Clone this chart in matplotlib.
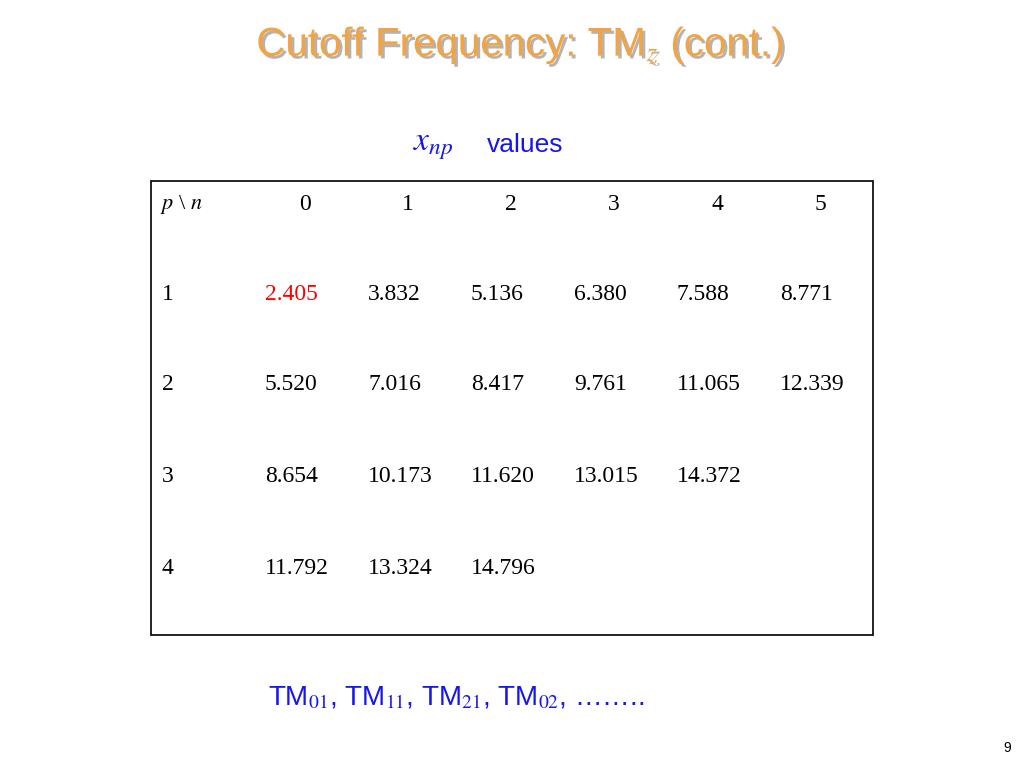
import matplotlib
matplotlib.use("Agg")
import matplotlib.pyplot as plt
import matplotlib.patheffects as pe
from matplotlib.patches import Rectangle

plt.rcParams['mathtext.fontset'] = 'stix'

col_labels = ["0", "1", "2", "3", "4", "5"]
row_labels = ["1", "2", "3", "4"]
row1 = ["2.405", "3.832", "5.136", "6.380", "7.588", "8.771"]
row2 = ["5.520", "7.016", "8.417", "9.761", "11.065", "12.339"]
row3 = ["8.654", "10.173", "11.620", "13.015", "14.372"]
row4 = ["11.792", "13.324", "14.796"]
rows = [row1, row2, row3, row4]

W, H = 1024, 768
fig = plt.figure(figsize=(W/100, H/100), dpi=100)
ax = fig.add_axes([0, 0, 1, 1])
ax.set_xlim(0, W); ax.set_ylim(H, 0); ax.axis('off')

# Title
ax.text(520, 45, r"Cutoff Frequency: TM$_{\it z}$ (cont.)", fontsize=29, color='#F4A340',
        family='Liberation Sans', ha='center', va='center',
        path_effects=[pe.withSimplePatchShadow(offset=(2, -2), shadow_rgbFace='#A0A0A0', alpha=0.8)])

blue = '#1515F0'
ax.text(453, 145, r"$\it{x}_{\it{np}}$", fontsize=24, color=blue, ha='right', va='center')
ax.text(487, 145, "values", fontsize=19, color=blue, family='Liberation Sans', ha='left', va='center')

ax.add_patch(Rectangle((151, 181), 722, 454, fill=False, lw=1.2, ec='black'))

serif = 'Liberation Serif'
ax.text(160, 205, r"$\it{p}$ \ $\it{n}$", fontsize=16, ha='left', va='center', family=serif)
hx = [305, 408, 511, 614, 717, 820]
for x, c in zip(hx, col_labels):
    ax.text(x, 205, c, fontsize=17, ha='center', va='center', family=serif)

vx = [265, 368, 471, 574, 677, 780]
ry = [295, 385, 477, 568]
for y, rl, vals in zip(ry, row_labels, rows):
    ax.text(162, y, rl, fontsize=17, ha='left', va='center', family=serif)
    for i, v in enumerate(vals):
        col = 'red' if (rl == "1" and i == 0) else 'black'
        ax.text(vx[i], y, v, fontsize=17, ha='left', va='center', family=serif, color=col)

ax.text(268, 698, r"TM$_{\mathrm{01}}$, TM$_{\mathrm{11}}$, TM$_{\mathrm{21}}$, TM$_{\mathrm{02}}$, ……..",
        fontsize=20, color=blue, family='Liberation Sans', ha='left', va='center')

ax.text(1007, 748, "9", fontsize=10, ha='center', va='center', family='Liberation Sans')

fig.savefig("out.png", dpi=100)
